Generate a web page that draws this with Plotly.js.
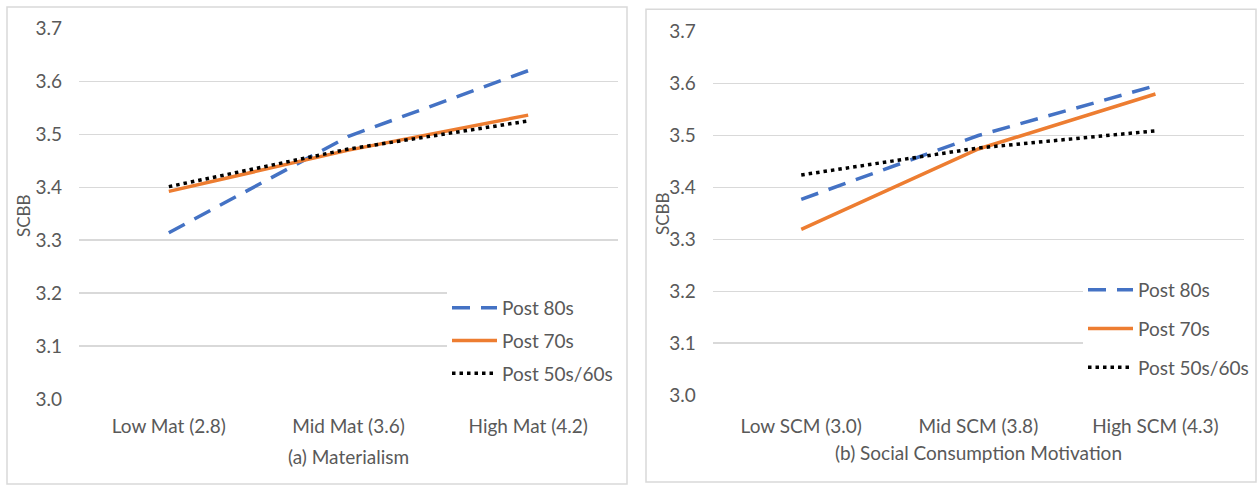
<!DOCTYPE html>
<html>
<head>
<meta charset="utf-8">
<script src="https://cdn.plot.ly/plotly-3.0.1.min.js"></script>
<style>html,body{margin:0;padding:0;background:#fff;}#chart{width:1257px;height:485px;}</style>
</head>
<body>
<div id="chart"></div>
<script>
// Panel (a) Materialism
var catsA = ["Low Mat (2.8)", "Mid Mat (3.6)", "High Mat (4.2)"];
var a_post80 = [3.314, 3.496, 3.620];
var a_post70 = [3.392, 3.470, 3.536];
var a_post5060 = [3.401, 3.472, 3.525];

// Panel (b) Social Consumption Motivation
var catsB = ["Low SCM (3.0)", "Mid SCM (3.8)", "High SCM (4.3)"];
var b_post80 = [3.377, 3.500, 3.596];
var b_post70 = [3.319, 3.474, 3.580];
var b_post5060 = [3.424, 3.476, 3.509];

var seriesNames = ["Post 80s", "Post 70s", "Post 50s/60s"];
var yTicks = [3.0, 3.1, 3.2, 3.3, 3.4, 3.5, 3.6, 3.7];
var yTickText = ["3.0", "3.1", "3.2", "3.3", "3.4", "3.5", "3.6", "3.7"];

var W = 1257, H = 485;
var FONT = "Lato, 'Open Sans', sans-serif";
var TXT = "#595959";
var styles = [
  {color: "#4472C4", width: 3.5, dash: "18px,11px"},
  {color: "#ED7D31", width: 3.5, dash: "solid"},
  {color: "#000000", width: 3.5, dash: "3.5px,4px"}
];
var idx = [0, 1, 2];
function mk(vals, name, i, xa, ya, leg, grp) {
  return {
    type: "scatter", mode: "lines", x: idx, y: vals, name: name,
    xaxis: xa, yaxis: ya, legend: leg, legendgroup: grp,
    line: {color: styles[i].color, width: styles[i].width, dash: styles[i].dash},
    hoverinfo: "skip"
  };
}
var data = [
  mk(a_post80, seriesNames[0], 0, "x", "y", "legend", "a0"),
  mk(a_post70, seriesNames[1], 1, "x", "y", "legend", "a1"),
  mk(a_post5060, seriesNames[2], 2, "x", "y", "legend", "a2"),
  mk(b_post80, seriesNames[0], 0, "x2", "y2", "legend2", "b0"),
  mk(b_post70, seriesNames[1], 1, "x2", "y2", "legend2", "b1"),
  mk(b_post5060, seriesNames[2], 2, "x2", "y2", "legend2", "b2")
];

function px(x) { return x / W; }
function py(y) { return 1 - y / H; }

var tickFont = {family: FONT, size: 19, color: TXT};
function xax(dom, cats) {
  return {
    domain: dom, range: [-0.5, 2.5], tickvals: idx, ticktext: cats,
    showgrid: false, zeroline: false, showline: false, ticks: "",
    ticklabelstandoff: 14, tickfont: tickFont, fixedrange: true
  };
}
function yax(dom, anchor) {
  return {
    domain: dom, range: [3.0, 3.7], tickvals: yTicks, ticktext: yTickText,
    showgrid: true, gridcolor: "#d9d9d9", gridwidth: 1.3, zeroline: false,
    showline: false, ticks: "", ticklabelstandoff: 16, tickfont: tickFont,
    anchor: anchor, fixedrange: true
  };
}
function legendAt(x, y, gap) {
  return {
    x: px(x), y: py(y), xanchor: "left", yanchor: "top",
    bgcolor: "#ffffff", borderwidth: 0, traceorder: "grouped",
    tracegroupgap: gap, itemwidth: 45,
    font: {family: FONT, size: 19, color: TXT}
  };
}

var layout = {
  width: W, height: H,
  margin: {l: 0, r: 0, t: 0, b: 0},
  paper_bgcolor: "#ffffff", plot_bgcolor: "rgba(0,0,0,0)",
  showlegend: true,
  xaxis: xax([px(79), px(618)], catsA),
  yaxis: yax([py(399), py(28.3)], "x"),
  xaxis2: xax([px(712.7), px(1244)], catsB),
  yaxis2: yax([py(395), py(31.7)], "x2"),
  legend: legendAt(447, 289, 5),
  legend2: legendAt(1083, 271, 11),
  shapes: [
    {type: "rect", xref: "paper", yref: "paper", x0: px(7), x1: px(627), y0: py(484), y1: py(7),
     line: {color: "#d9d9d9", width: 1.5}, layer: "below"},
    {type: "rect", xref: "paper", yref: "paper", x0: px(646), x1: px(1256), y0: py(482), y1: py(9.3),
     line: {color: "#d9d9d9", width: 1.5}, layer: "below"}
  ],
  annotations: [
    {text: "(a) Materialism", xref: "paper", yref: "paper", x: px(348.5), y: py(456),
     xanchor: "center", yanchor: "middle", showarrow: false, font: {family: FONT, size: 19, color: TXT}},
    {text: "(b) Social Consumption Motivation", xref: "paper", yref: "paper", x: px(978.4), y: py(452),
     xanchor: "center", yanchor: "middle", showarrow: false, font: {family: FONT, size: 19, color: TXT}},
    {text: "SCBB", xref: "paper", yref: "paper", x: px(23), y: py(216), textangle: -90,
     xanchor: "center", yanchor: "middle", showarrow: false, font: {family: FONT, size: 17, color: TXT}},
    {text: "SCBB", xref: "paper", yref: "paper", x: px(662), y: py(214), textangle: -90,
     xanchor: "center", yanchor: "middle", showarrow: false, font: {family: FONT, size: 17, color: TXT}}
  ]
};

Plotly.newPlot("chart", data, layout, {displayModeBar: false, staticPlot: true});
</script>
</body>
</html>
